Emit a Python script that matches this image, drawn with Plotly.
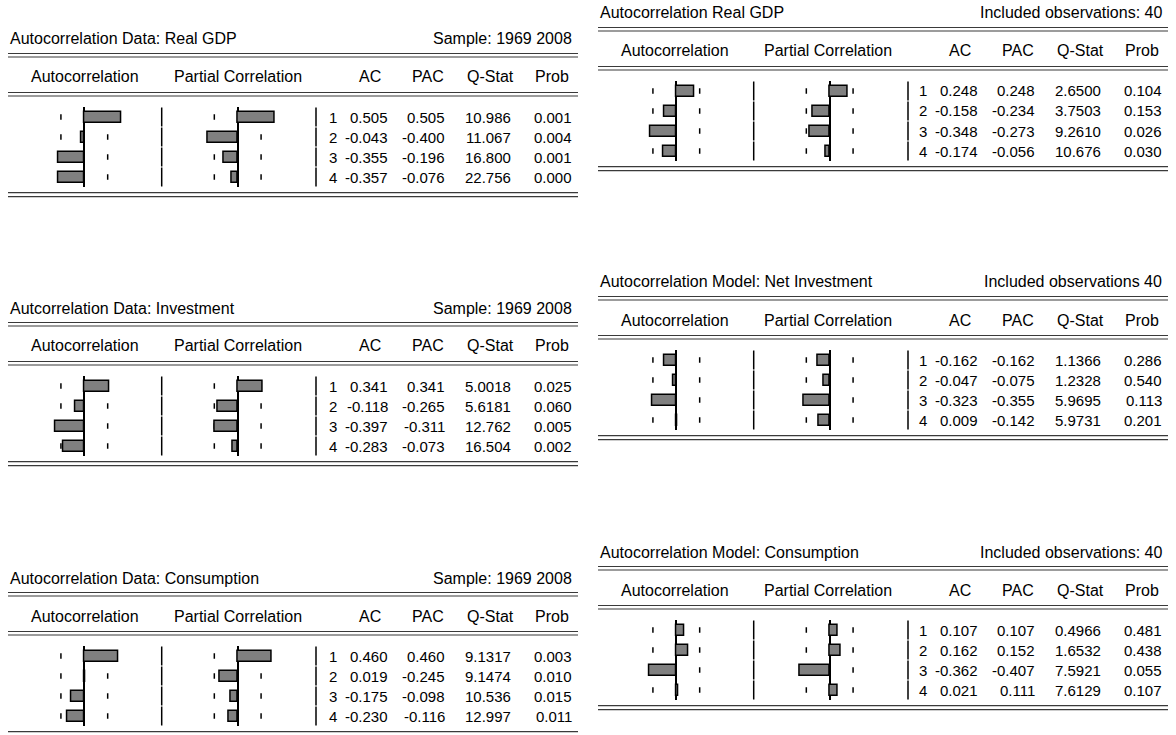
import plotly.graph_objects as go

# correlograms (EViews style), 4 lags, 40 observations each
lags = [1, 2, 3, 4]
bound = 0.316  # dashed confidence marks, approx 2/sqrt(40)

titles = [
    "Autocorrelation Data: Real GDP",
    "Autcorrelation Data: Investment",
    "Autocorrelation Data: Consumption",
    "Autocorrelation Real GDP",
    "Autocorrelation Model: Net Investment",
    "Autocorrelation Model: Consumption",
]
notes = [
    "Sample: 1969 2008",
    "Sample: 1969 2008",
    "Sample: 1969 2008",
    "Included observations: 40",
    "Included observations 40",
    "Included observations: 40",
]
headers = ["Autocorrelation", "Partial Correlation", "AC", "PAC", "Q-Stat", "Prob"]

gdp_ac = [0.505, -0.043, -0.355, -0.357]
gdp_pac = [0.505, -0.400, -0.196, -0.076]
gdp_q = [10.986, 11.067, 16.800, 22.756]
gdp_prob = [0.001, 0.004, 0.001, 0.000]

inv_ac = [0.341, -0.118, -0.397, -0.283]
inv_pac = [0.341, -0.265, -0.311, -0.073]
inv_q = [5.0018, 5.6181, 12.762, 16.504]
inv_prob = [0.025, 0.060, 0.005, 0.002]

cons_ac = [0.460, 0.019, -0.175, -0.230]
cons_pac = [0.460, -0.245, -0.098, -0.116]
cons_q = [9.1317, 9.1474, 10.536, 12.997]
cons_prob = [0.003, 0.010, 0.015, 0.011]

mgdp_ac = [0.248, -0.158, -0.348, -0.174]
mgdp_pac = [0.248, -0.234, -0.273, -0.056]
mgdp_q = [2.6500, 3.7503, 9.2610, 10.676]
mgdp_prob = [0.104, 0.153, 0.026, 0.030]

minv_ac = [-0.162, -0.047, -0.323, 0.009]
minv_pac = [-0.162, -0.075, -0.355, -0.142]
minv_q = [1.1366, 1.2328, 5.9695, 5.9731]
minv_prob = [0.286, 0.540, 0.113, 0.201]

mcons_ac = [0.107, 0.162, -0.362, 0.021]
mcons_pac = [0.107, 0.152, -0.407, 0.111]
mcons_q = [0.4966, 1.6532, 7.5921, 7.6129]
mcons_prob = [0.481, 0.438, 0.055, 0.107]

ac_all = [gdp_ac, inv_ac, cons_ac, mgdp_ac, minv_ac, mcons_ac]
pac_all = [gdp_pac, inv_pac, cons_pac, mgdp_pac, minv_pac, mcons_pac]
q_all = [gdp_q, inv_q, cons_q, mgdp_q, minv_q, mcons_q]
prob_all = [gdp_prob, inv_prob, cons_prob, mgdp_prob, minv_prob, mcons_prob]

# where each table sits on the page (pixels)
W, H = 1176, 735
right_side = [False, False, False, True, True, True]
first_row = [117, 386, 656, 91, 360, 630]
SCALE = 74  # px per unit correlation
HALF = 70


def px(x):
    return x / W


def py(y):
    return 1 - y / H


def qfmt(q):
    return f"{q:.4f}" if q < 10 else f"{q:.3f}"


font = dict(family="Liberation Sans, Arial, sans-serif", size=16, color="black")
num_font = dict(family="Liberation Sans, Arial, sans-serif", size=15, color="black")
rule_col = "#3a3a3a"

fig = go.Figure()
layout = {}
shapes = []
annotations = []

for i in range(6):
    k = 3 * i
    ya = i + 1
    yname = "yaxis" if ya == 1 else f"yaxis{ya}"
    bshift = 592 if right_side[i] else 0
    tx0 = 598 if right_side[i] else 8
    r1 = first_row[i]

    layout[yname] = dict(domain=[py(r1 + 70), py(r1 - 10)], range=[4.5, 0.5],
                         anchor=f"x{k + 1}", visible=False, fixedrange=True)

    for xi, zero, vals in [(k + 1, 84.3 + bshift, ac_all[i]), (k + 2, 237.7 + bshift, pac_all[i])]:
        xname = "xaxis" if xi == 1 else f"xaxis{xi}"
        layout[xname] = dict(domain=[px(zero - HALF), px(zero + HALF)],
                             range=[-HALF / SCALE, HALF / SCALE], anchor=f"y{ya}",
                             showgrid=False, showticklabels=False, ticks="", showline=False,
                             zeroline=True, zerolinecolor="black", zerolinewidth=1.5,
                             fixedrange=True)
        fig.add_trace(go.Bar(x=vals, y=lags, orientation="h", xaxis=f"x{xi}", yaxis=f"y{ya}",
                             width=0.55, showlegend=False, hoverinfo="skip",
                             marker=dict(color="#808080", line=dict(color="black", width=1.5))))
        for lag in lags:
            for b in (-bound, bound):
                shapes.append(dict(type="line", xref=f"x{xi}", yref=f"y{ya}", x0=b, x1=b,
                                   y0=lag - 0.14, y1=lag + 0.14, layer="below",
                                   line=dict(color="black", width=1.5)))

    # text columns live on their own hidden axis measured in pixels from the table edge
    xt = k + 3
    layout[f"xaxis{xt}"] = dict(domain=[px(tx0), px(tx0 + 570)], range=[0, 570],
                                anchor=f"y{ya}", visible=False, fixedrange=True)
    cols = [
        (331, [str(l) for l in lags]),
        (382, [f"{v:.3f}" for v in ac_all[i]]),
        (439, [f"{v:.3f}" for v in pac_all[i]]),
        (505, [qfmt(v) for v in q_all[i]]),
        (566, [f"{v:.3f}" for v in prob_all[i]]),
    ]
    for off, strs in cols:
        for lag, s in zip(lags, strs):
            annotations.append(dict(xref=f"x{xt}", yref=f"y{ya}", x=off, y=lag, text=s,
                                    xanchor="right", yanchor="middle", showarrow=False,
                                    font=num_font))

    # title line
    annotations.append(dict(xref="paper", yref="paper", x=px(tx0), y=py(r1 - 78),
                            text=titles[i], xanchor="left", yanchor="middle",
                            showarrow=False, font=font))
    annotations.append(dict(xref="paper", yref="paper", x=px(tx0 + 566), y=py(r1 - 78),
                            text=notes[i], xanchor="right", yanchor="middle",
                            showarrow=False, font=font))
    # column headers
    for cx, h in zip([77, 229.5, 362, 420, 482, 544], headers):
        annotations.append(dict(xref="paper", yref="paper", x=px(tx0 + cx), y=py(r1 - 40),
                                text=h, xanchor="center", yanchor="middle",
                                showarrow=False, font=font))

    # double rules
    for dy in (-63.5, -60, -24.5, -21, 75.7, 79.7):
        shapes.append(dict(type="line", xref="paper", yref="paper",
                           x0=px(tx0), x1=px(tx0 + 570), y0=py(r1 + dy), y1=py(r1 + dy),
                           line=dict(color=rule_col, width=1.2)))
    # column separators
    for sx in (161.7 + bshift, 316 + bshift):
        for j in range(4):
            rc = r1 + 20 * j
            shapes.append(dict(type="line", xref="paper", yref="paper",
                               x0=px(sx), x1=px(sx), y0=py(rc - 9.5), y1=py(rc + 9.5),
                               line=dict(color="black", width=1.5)))

fig.update_layout(**layout)
fig.update_layout(width=W, height=H, margin=dict(l=0, r=0, t=0, b=0),
                  paper_bgcolor="white", plot_bgcolor="rgba(0,0,0,0)",
                  shapes=shapes, annotations=annotations, bargap=0, font=font)

# drop the default page margin so the figure fills the window from the top-left corner
fig.write_html("out.html", config={"displayModeBar": False},
               post_script="document.body.style.margin = '0px';")
